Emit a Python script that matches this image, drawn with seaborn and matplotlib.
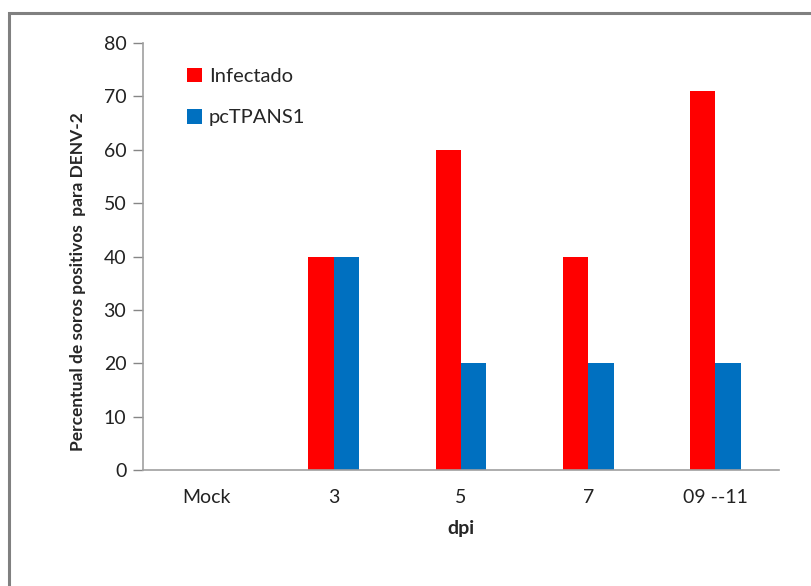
import matplotlib
matplotlib.use("Agg")
import matplotlib.pyplot as plt
import seaborn as sns
import pandas as pd
from matplotlib.patches import Rectangle

categories = ["Mock", "3", "5", "7", "09 --11"]
infectado = [0, 40, 60, 40, 71]
pctpans1 = [0, 40, 20, 20, 20]
series_names = ["Infectado", "pcTPANS1"]
colors = ["#FF0000", "#0070C0"]
yticks = [0, 10, 20, 30, 40, 50, 60, 70, 80]

df = pd.DataFrame({
    "dpi": categories * 2,
    "valor": infectado + pctpans1,
    "serie": [series_names[0]] * len(categories) + [series_names[1]] * len(categories),
})

sns.set_style("white")
plt.rcParams["font.family"] = ["Lato", "DejaVu Sans"]

fig = plt.figure(figsize=(8.12, 5.86), dpi=100)
ax = fig.add_axes([143 / 812, 1 - 470 / 586, (779 - 143) / 812, (470 - 43) / 586])

sns.barplot(data=df, x="dpi", y="valor", hue="serie", order=categories,
            hue_order=series_names, palette=colors, width=0.4,
            saturation=1, ax=ax, linewidth=0, legend=True)

ax.set_ylim(0, 80)
ax.set_xlim(-0.5, len(categories) - 0.5)
ax.set_yticks(yticks)
ax.set_yticklabels([str(v) for v in yticks], fontsize=14, color="#222222")
ax.tick_params(axis="y", direction="out", length=7, width=1, color="#868686", pad=5, left=True)
ax.tick_params(axis="x", length=0, pad=14, labelsize=14, labelcolor="#222222")
for s in ["top", "right"]:
    ax.spines[s].set_visible(False)
for s in ["left", "bottom"]:
    ax.spines[s].set_color("#A0A0A0")
    ax.spines[s].set_linewidth(1.2)
ax.set_xlabel("dpi", fontsize=14, fontweight="bold", labelpad=10)
ax.set_ylabel("Percentual de soros positivos  para DENV-2", fontsize=12.5, fontweight="bold")
ax.yaxis.set_label_coords(-0.09, 0.44)

leg = ax.legend(loc="upper left", bbox_to_anchor=(0.04, 0.985), frameon=False,
                fontsize=14.5, handlelength=0.75, handleheight=0.75, handletextpad=0.35,
                labelspacing=1.2)

# outer frame (cropped at right and bottom)
fig.patches.append(Rectangle((9 / 812, -0.05), 1.2, 1 - 13 / 586 + 0.05,
                             transform=fig.transFigure, fill=False,
                             edgecolor="#808080", linewidth=2.2))

fig.savefig("out.png", dpi=100)
